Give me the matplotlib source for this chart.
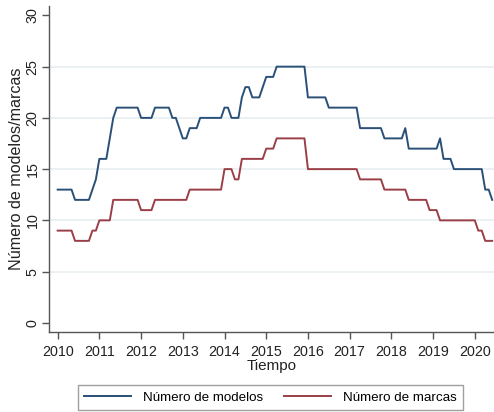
import matplotlib
matplotlib.use('Agg')
import matplotlib.pyplot as plt
import numpy as np

# Serie mensual desde enero de 2010
modelos = [
    13, 13, 13, 13, 13, 12, 12, 12, 12, 12, 13, 14,   # 2010
    16, 16, 16, 18, 20, 21, 21, 21, 21, 21, 21, 21,   # 2011
    20, 20, 20, 20, 21, 21, 21, 21, 21, 20, 20, 19,   # 2012
    18, 18, 19, 19, 19, 20, 20, 20, 20, 20, 20, 20,   # 2013
    21, 21, 20, 20, 20, 22, 23, 23, 22, 22, 22, 23,   # 2014
    24, 24, 24, 25, 25, 25, 25, 25, 25, 25, 25, 25,   # 2015
    22, 22, 22, 22, 22, 22, 21, 21, 21, 21, 21, 21,   # 2016
    21, 21, 21, 19, 19, 19, 19, 19, 19, 19, 18, 18,   # 2017
    18, 18, 18, 18, 19, 17, 17, 17, 17, 17, 17, 17,   # 2018
    17, 17, 18, 16, 16, 16, 15, 15, 15, 15, 15, 15,   # 2019
    15, 15, 15, 13, 13, 12,                           # 2020
]
marcas = [
    9, 9, 9, 9, 9, 8, 8, 8, 8, 8, 9, 9,
    10, 10, 10, 10, 12, 12, 12, 12, 12, 12, 12, 12,
    11, 11, 11, 11, 12, 12, 12, 12, 12, 12, 12, 12,
    12, 12, 13, 13, 13, 13, 13, 13, 13, 13, 13, 13,
    15, 15, 15, 14, 14, 16, 16, 16, 16, 16, 16, 16,
    17, 17, 17, 18, 18, 18, 18, 18, 18, 18, 18, 18,
    15, 15, 15, 15, 15, 15, 15, 15, 15, 15, 15, 15,
    15, 15, 15, 14, 14, 14, 14, 14, 14, 14, 13, 13,
    13, 13, 13, 13, 13, 12, 12, 12, 12, 12, 12, 11,
    11, 11, 10, 10, 10, 10, 10, 10, 10, 10, 10, 10,
    10, 9, 9, 8, 8, 8,
]
anio_inicio = 2010
anios = list(range(2010, 2021))
yticks = [0, 5, 10, 15, 20, 25, 30]

plt.rcParams['font.family'] = ['Liberation Sans', 'DejaVu Sans']

t = anio_inicio + np.arange(len(modelos)) / 12.0

fig = plt.figure(figsize=(4.94, 4.12), dpi=100)
ax = fig.add_axes([0.0998, 0.194, 0.9002, 0.791])

for y in yticks[1:-1]:
    ax.axhline(y, color='#e9f0f1', lw=1.3, zorder=0)

ax.plot(t, modelos, color='#2a5077', lw=1.4, label='Número de modelos')
ax.plot(t, marcas, color='#9a3f47', lw=1.4, label='Número de marcas')

ax.set_xlim(2009.8, 2020.46)
ax.set_ylim(-0.9, 30.9)
ax.set_xticks(anios)
ax.set_yticks(yticks)
ax.set_yticklabels([str(v) for v in yticks], rotation=90, va='center')

for s in ['top', 'right']:
    ax.spines[s].set_visible(False)
for s in ['left', 'bottom']:
    ax.spines[s].set_color('#555555')
    ax.spines[s].set_linewidth(1.0)
ax.tick_params(axis='both', direction='out', length=5, width=1.0,
               color='#555555', labelsize=10.3, labelcolor='#222222')
ax.tick_params(axis='x', pad=4)
ax.tick_params(axis='y', pad=2)

ax.set_xlabel('Tiempo', fontsize=11, color='#222222', labelpad=0)
ax.set_ylabel('Número de modelos/marcas', fontsize=11.6, color='#222222', labelpad=1)

# leyenda en dos columnas bajo el gráfico
leg = fig.legend(loc='center', bbox_to_anchor=(0.5476, 0.035), ncol=2,
                 fontsize=9.6, frameon=True, fancybox=False,
                 handlelength=3.5, handletextpad=0.9, columnspacing=1.6,
                 borderpad=0.45, borderaxespad=0)
leg.get_frame().set_edgecolor('#888888')
leg.get_frame().set_linewidth(1.0)

fig.savefig('out.png', dpi=100)
